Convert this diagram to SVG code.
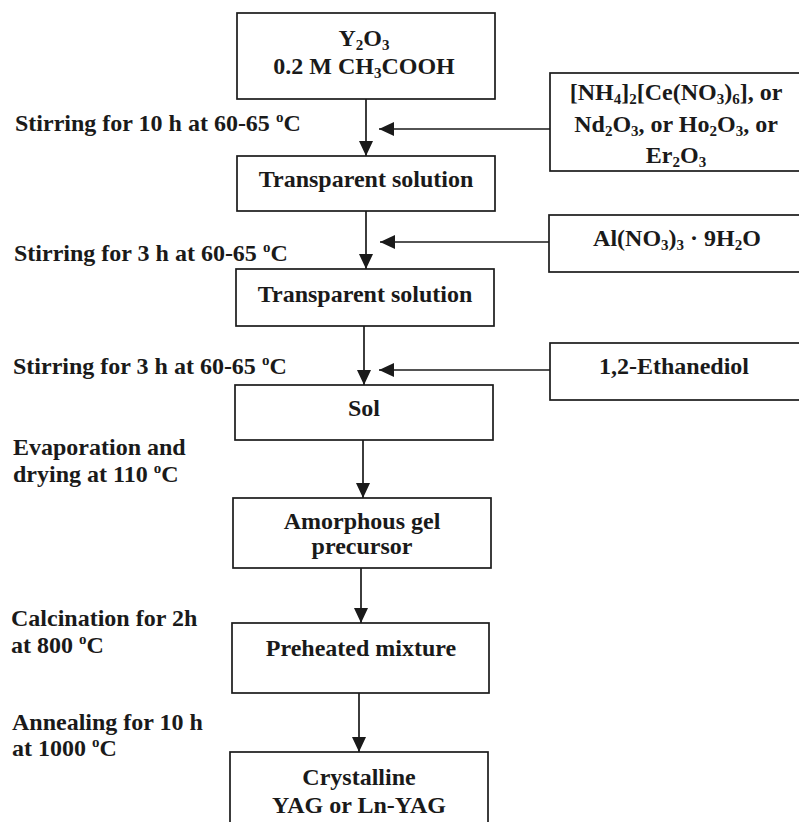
<svg xmlns="http://www.w3.org/2000/svg" width="799" height="822" viewBox="0 0 799 822">
<style>
.box{fill:#fff;stroke:#1a1a1a;stroke-width:1.7}
.t{font-family:"Liberation Serif","Times New Roman",serif;font-weight:bold;font-size:24px;fill:#1a1a1a}
.c{text-anchor:middle}
.sub{font-size:15px}
.con{stroke:#1a1a1a;stroke-width:1.7;fill:none}
</style>
<defs>
<marker id="ah" markerUnits="userSpaceOnUse" markerWidth="16" markerHeight="14" refX="15" refY="7" orient="auto">
<path d="M0,0 L15,7 L0,14 z" fill="#1a1a1a"/>
</marker>
</defs>
<rect width="799" height="822" fill="#fff"/>

<g id="connectors">
<line class="con" x1="366" y1="99" x2="366" y2="156" marker-end="url(#ah)"/>
<line class="con" x1="366" y1="211" x2="366" y2="269" marker-end="url(#ah)"/>
<line class="con" x1="364" y1="326" x2="364" y2="385" marker-end="url(#ah)"/>
<line class="con" x1="363" y1="440" x2="363" y2="498" marker-end="url(#ah)"/>
<line class="con" x1="361" y1="568" x2="361" y2="623" marker-end="url(#ah)"/>
<line class="con" x1="359" y1="693" x2="359" y2="752" marker-end="url(#ah)"/>
<line class="con" x1="550" y1="129" x2="379" y2="129" marker-end="url(#ah)"/>
<line class="con" x1="549" y1="242" x2="380" y2="242" marker-end="url(#ah)"/>
<line class="con" x1="550" y1="370" x2="379" y2="370" marker-end="url(#ah)"/>
</g>

<g id="n1">
<rect class="box" x="237" y="13" width="258" height="86"/>
<text class="t c" x="364" y="46">Y<tspan class="sub" dy="4">2</tspan><tspan dy="-4">O</tspan><tspan class="sub" dy="4">3</tspan></text>
<text class="t c" x="364" y="74">0.2 M CH<tspan class="sub" dy="4">3</tspan><tspan dy="-4">COOH</tspan></text>
</g>

<g id="n2">
<rect class="box" x="237" y="156" width="258" height="55"/>
<text class="t c" x="366" y="187">Transparent solution</text>
</g>

<g id="n3">
<rect class="box" x="236" y="269" width="258" height="57"/>
<text class="t c" x="365" y="302">Transparent solution</text>
</g>

<g id="n4">
<rect class="box" x="235" y="385" width="258" height="55"/>
<text class="t c" x="364" y="416">Sol</text>
</g>

<g id="n5">
<rect class="box" x="233" y="498" width="258" height="70"/>
<text class="t c" x="362" y="529">Amorphous gel</text>
<text class="t c" x="362" y="554">precursor</text>
</g>

<g id="n6">
<rect class="box" x="232" y="623" width="257" height="70"/>
<text class="t c" x="361" y="656">Preheated mixture</text>
</g>

<g id="n7">
<rect class="box" x="230" y="752" width="258" height="90"/>
<text class="t c" x="359" y="785">Crystalline</text>
<text class="t c" x="359" y="813">YAG or Ln-YAG</text>
</g>

<g id="r1">
<rect class="box" x="550" y="73" width="260" height="98"/>
<text class="t c" x="676" y="100">[NH<tspan class="sub" dy="4">4</tspan><tspan dy="-4">]</tspan><tspan class="sub" dy="4">2</tspan><tspan dy="-4">[Ce(NO</tspan><tspan class="sub" dy="4">3</tspan><tspan dy="-4">)</tspan><tspan class="sub" dy="4">6</tspan><tspan dy="-4">], or</tspan></text>
<text class="t c" x="676" y="132">Nd<tspan class="sub" dy="4">2</tspan><tspan dy="-4">O</tspan><tspan class="sub" dy="4">3</tspan><tspan dy="-4">, or Ho</tspan><tspan class="sub" dy="4">2</tspan><tspan dy="-4">O</tspan><tspan class="sub" dy="4">3</tspan><tspan dy="-4">, or</tspan></text>
<text class="t c" x="676" y="163">Er<tspan class="sub" dy="4">2</tspan><tspan dy="-4">O</tspan><tspan class="sub" dy="4">3</tspan></text>
</g>

<g id="r2">
<rect class="box" x="549" y="215" width="260" height="57"/>
<text class="t c" x="677" y="246">Al(NO<tspan class="sub" dy="4">3</tspan><tspan dy="-4">)</tspan><tspan class="sub" dy="4">3</tspan><tspan dy="-4"> · 9H</tspan><tspan class="sub" dy="4">2</tspan><tspan dy="-4">O</tspan></text>
</g>

<g id="r3">
<rect class="box" x="550" y="343" width="260" height="57"/>
<text class="t c" x="674" y="374">1,2-Ethanediol</text>
</g>

<g id="labels">
<text class="t" x="15" y="131">Stirring for 10 h at 60-65 <tspan class="sub" dy="-9">o</tspan><tspan dy="9">C</tspan></text>
<text class="t" x="14" y="261">Stirring for 3 h at 60-65 <tspan class="sub" dy="-9">o</tspan><tspan dy="9">C</tspan></text>
<text class="t" x="13" y="374">Stirring for 3 h at 60-65 <tspan class="sub" dy="-9">o</tspan><tspan dy="9">C</tspan></text>
<text class="t" x="13" y="455">Evaporation and</text>
<text class="t" x="13" y="482">drying at 110 <tspan class="sub" dy="-9">o</tspan><tspan dy="9">C</tspan></text>
<text class="t" x="11" y="626">Calcination for 2h</text>
<text class="t" x="11" y="653">at 800 <tspan class="sub" dy="-9">o</tspan><tspan dy="9">C</tspan></text>
<text class="t" x="12" y="730">Annealing for 10 h</text>
<text class="t" x="12" y="756">at 1000 <tspan class="sub" dy="-9">o</tspan><tspan dy="9">C</tspan></text>
</g>
</svg>
